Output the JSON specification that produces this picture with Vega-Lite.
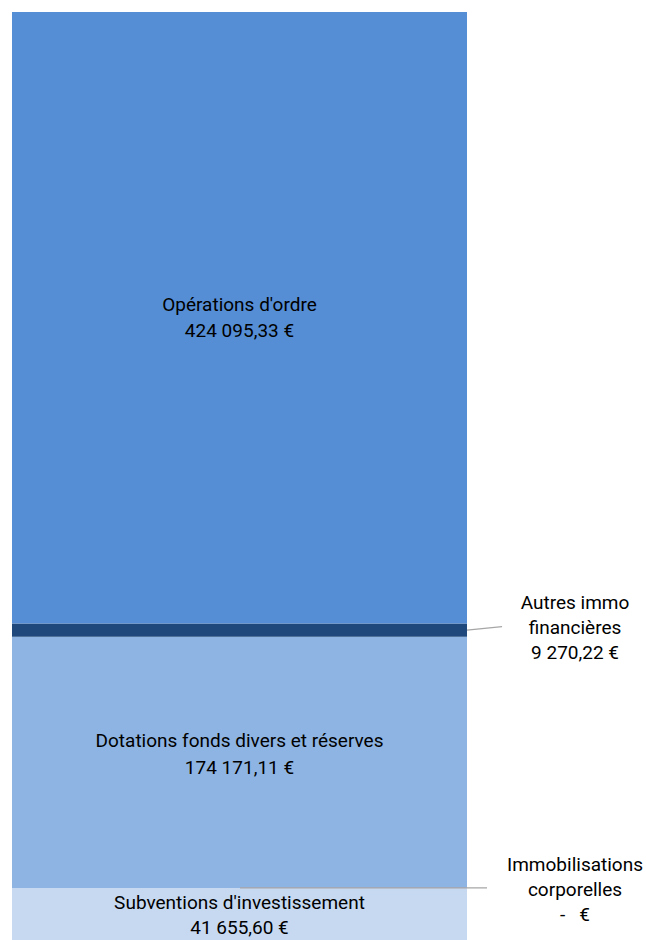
{
  "$schema": "https://vega.github.io/schema/vega-lite/v6.json",
  "autosize": {"type": "none"},
  "padding": {"left": 12, "top": 12, "right": 0, "bottom": 0},
  "width": 634,
  "height": 936,
  "background": "white",
  "config": {"view": {"stroke": null}, "text": {"font": "Roboto", "fontSize": 19, "align": "center", "baseline": "middle", "color": "#000000"}},
  "data": {
    "values": [
      {"cat": "Subventions d'investissement", "value": 41655.60, "order": 1, "place": "in", "lines": ["Subventions d'investissement", "41 655,60 €"]},
      {"cat": "Immobilisations corporelles", "value": 0, "order": 2, "place": "out", "lines": ["Immobilisations", "corporelles", "-\u00a0\u00a0\u00a0€"]},
      {"cat": "Dotations fonds divers et réserves", "value": 174171.11, "order": 3, "place": "in", "lines": ["Dotations fonds divers et réserves", "174 171,11 €"]},
      {"cat": "Autres immo financières", "value": 9270.22, "order": 4, "place": "out", "lines": ["Autres immo", "financières", "9 270,22 €"]},
      {"cat": "Opérations d'ordre", "value": 424095.33, "order": 5, "place": "in", "lines": ["Opérations d'ordre", "424 095,33 €"]}
    ]
  },
  "transform": [
    {"stack": "value", "groupby": [], "sort": [{"field": "order", "order": "ascending"}], "as": ["v0", "v1"]},
    {"calculate": "(datum.v0 + datum.v1) / 2", "as": "mid"}
  ],
  "layer": [
    {
      "mark": {"type": "bar"},
      "encoding": {
        "x": {"datum": 0, "type": "quantitative", "scale": {"domain": [0, 1.39341], "nice": false, "zero": false}, "axis": null},
        "x2": {"datum": 1},
        "y": {"field": "v0", "type": "quantitative", "scale": {"domain": [0, 649192.26], "nice": false, "zero": false}, "axis": null},
        "y2": {"field": "v1"},
        "color": {
          "field": "cat", "type": "nominal", "legend": null,
          "scale": {
            "domain": ["Subventions d'investissement", "Immobilisations corporelles", "Dotations fonds divers et réserves", "Autres immo financières", "Opérations d'ordre"],
            "range": ["#c6d9f1", "#4f81bd", "#8eb4e3", "#1f497d", "#558ed5"]
          }
        }
      }
    },
    {
      "transform": [{"filter": "datum.cat == 'Autres immo financières'"}],
      "mark": {"type": "rule", "color": "#a6a6a6", "strokeWidth": 1.2, "y2Offset": -3.5},
      "encoding": {
        "x": {"datum": 1, "type": "quantitative"},
        "x2": {"datum": 1.077},
        "y": {"field": "mid", "type": "quantitative"},
        "y2": {"field": "mid"}
      }
    },
    {
      "transform": [{"filter": "datum.cat == 'Immobilisations corporelles'"}],
      "mark": {"type": "rule", "color": "#a6a6a6", "strokeWidth": 1.2},
      "encoding": {
        "x": {"datum": 0.501, "type": "quantitative"},
        "x2": {"datum": 1.044},
        "y": {"field": "mid", "type": "quantitative"}
      }
    },
    {
      "transform": [{"filter": "datum.cat == 'Opérations d\\'ordre'"}],
      "mark": {"type": "text", "lineHeight": 26, "dy": -13},
      "encoding": {
        "x": {"datum": 0.5, "type": "quantitative"},
        "y": {"field": "mid", "type": "quantitative"},
        "text": {"field": "lines"}
      }
    },
    {
      "transform": [{"filter": "datum.cat == 'Dotations fonds divers et réserves'"}],
      "mark": {"type": "text", "lineHeight": 27, "dy": -21},
      "encoding": {
        "x": {"datum": 0.5, "type": "quantitative"},
        "y": {"field": "mid", "type": "quantitative"},
        "text": {"field": "lines"}
      }
    },
    {
      "transform": [{"filter": "datum.cat == 'Subventions d\\'investissement'"}],
      "mark": {"type": "text", "lineHeight": 25, "dy": -15},
      "encoding": {
        "x": {"datum": 0.5, "type": "quantitative"},
        "y": {"field": "mid", "type": "quantitative"},
        "text": {"field": "lines"}
      }
    },
    {
      "transform": [{"filter": "datum.cat == 'Autres immo financières'"}],
      "mark": {"type": "text", "lineHeight": 25, "dy": -27},
      "encoding": {
        "x": {"datum": 1.2374, "type": "quantitative"},
        "y": {"field": "mid", "type": "quantitative"},
        "text": {"field": "lines"}
      }
    },
    {
      "transform": [{"filter": "datum.cat == 'Immobilisations corporelles'"}],
      "mark": {"type": "text", "lineHeight": 25, "dy": -23},
      "encoding": {
        "x": {"datum": 1.2374, "type": "quantitative"},
        "y": {"field": "mid", "type": "quantitative"},
        "text": {"field": "lines"}
      }
    }
  ]
}
